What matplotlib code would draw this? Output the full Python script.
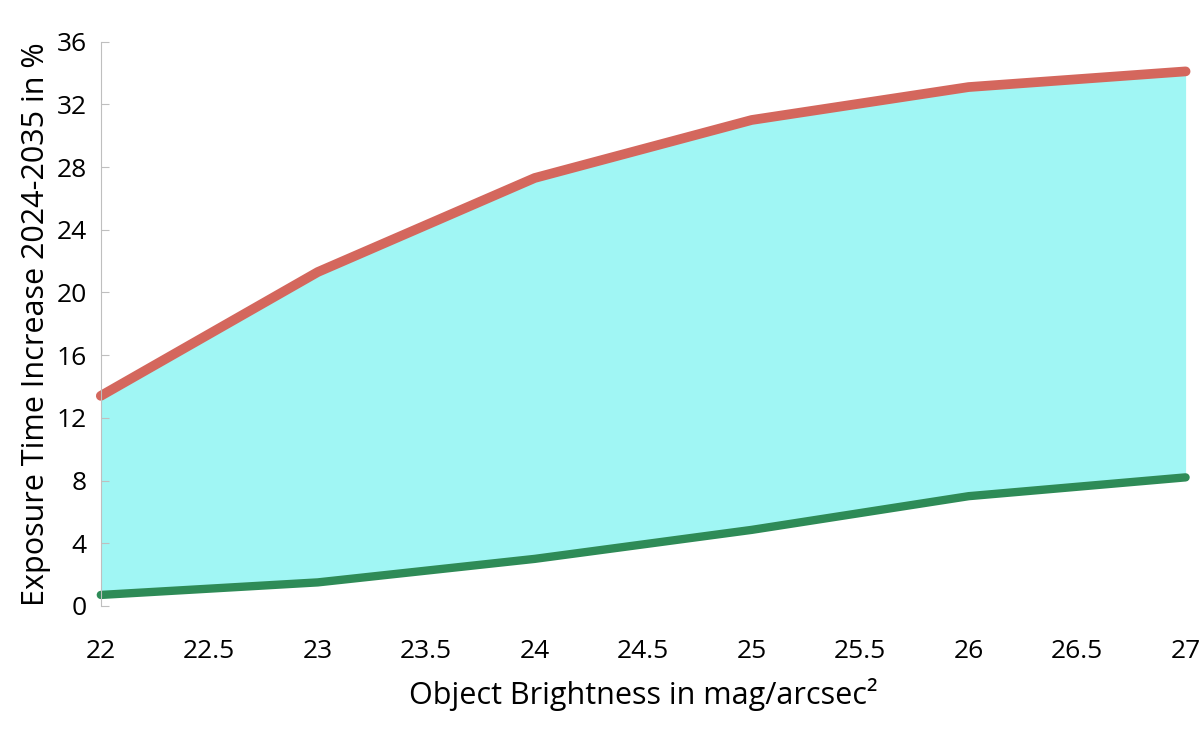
import matplotlib
matplotlib.use("Agg")
import matplotlib.pyplot as plt

mag = [22, 23, 24, 25, 26, 27]
upper = [13.4, 21.3, 27.3, 31.0, 33.1, 34.1]
lower = [0.7, 1.5, 3.0, 4.85, 7.0, 8.2]
xticks = [22, 22.5, 23, 23.5, 24, 24.5, 25, 25.5, 26, 26.5, 27]
yticks = list(range(0, 37, 4))

plt.rcParams['font.family'] = ['Open Sans', 'DejaVu Sans']
fig = plt.figure(figsize=(12, 7.3), dpi=100)
ax = fig.add_axes([0.084, 0.17, 0.904, 0.773])
ax.fill_between(mag, lower, upper, color='#8ff5f3', alpha=0.85, lw=0)
ax.plot(mag, upper, color='#d4675d', lw=7, solid_capstyle='round')
ax.plot(mag, lower, color='#2e8b57', lw=6, solid_capstyle='round')
ax.set_xlim(22, 27)
ax.set_ylim(0, 36)
ax.set_xticks(xticks)
ax.set_xticklabels([f"{t:g}" for t in xticks])
ax.set_yticks(yticks)
for s in ['top', 'right', 'bottom']:
    ax.spines[s].set_visible(False)
ax.spines['left'].set_color('#bfbfbf')
ax.tick_params(axis='y', direction='in', length=6, color='#bfbfbf', labelsize=19, pad=10)
ax.tick_params(axis='x', direction='out', length=0, labelsize=19, pad=24)
ax.set_xlabel('Object Brightness in mag/arcsec²', fontsize=22, labelpad=10)
ax.set_ylabel('Exposure Time Increase 2024-2035 in %', fontsize=22, labelpad=4)
for l in ax.lines:
    l.set_clip_on(False)
fig.savefig('out.png')
